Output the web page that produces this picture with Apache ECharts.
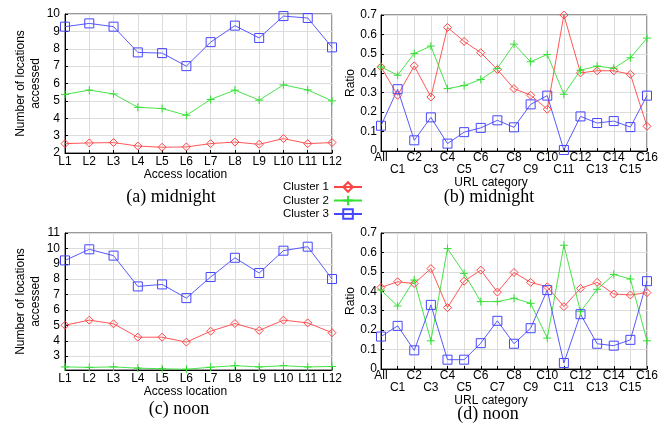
<!DOCTYPE html>
<html><head><meta charset="utf-8">
<script src="https://cdn.jsdelivr.net/npm/echarts@6/dist/echarts.min.js"></script>
<style>html,body{margin:0;padding:0;background:#fff}#c{width:670px;height:426px}</style>
</head><body><div id="c"></div>
<script>
var locations = ['L1','L2','L3','L4','L5','L6','L7','L8','L9','L10','L11','L12'];
var urlCats = ['All','C1','C2','C3','C4','C5','C6','C7','C8','C9','C10','C11','C12','C13','C14','C15','C16'];
var clusterNames = ['Cluster 1','Cluster 2','Cluster 3'];

// (a) midnight - number of locations accessed
var aC1 = [2.54,2.58,2.60,2.40,2.33,2.35,2.54,2.63,2.50,2.83,2.54,2.60];
var aC2 = [5.37,5.62,5.40,4.63,4.56,4.17,5.08,5.62,5.04,5.92,5.63,5.00];
var aC3 = [9.27,9.46,9.27,7.79,7.75,7.00,8.38,9.33,8.62,9.88,9.77,8.08];
// (b) midnight - ratio per URL category
var bC1 = [0.433,0.287,0.438,0.278,0.636,0.564,0.506,0.419,0.321,0.287,0.215,0.700,0.402,0.413,0.413,0.395,0.127];
var bC2 = [0.433,0.390,0.502,0.540,0.321,0.337,0.368,0.425,0.550,0.459,0.497,0.292,0.416,0.437,0.426,0.480,0.581];
var bC3 = [0.130,0.318,0.055,0.173,0.038,0.097,0.119,0.158,0.122,0.240,0.285,0.005,0.178,0.144,0.154,0.123,0.285];
// (c) noon - number of locations accessed
var cC1 = [5.01,5.34,5.10,4.23,4.23,3.91,4.62,5.12,4.67,5.34,5.16,4.52];
var cC2 = [2.30,2.27,2.30,2.22,2.18,2.15,2.28,2.38,2.30,2.38,2.30,2.33];
var cC3 = [9.22,9.94,9.53,7.53,7.66,6.77,8.14,9.39,8.40,9.85,10.11,8.01];
// (d) noon - ratio per URL category
var dC1 = [0.420,0.449,0.440,0.517,0.316,0.452,0.509,0.396,0.497,0.446,0.423,0.321,0.415,0.446,0.386,0.381,0.393];
var dC2 = [0.406,0.324,0.458,0.145,0.620,0.492,0.347,0.347,0.364,0.338,0.159,0.637,0.295,0.410,0.487,0.463,0.145];
var dC3 = [0.167,0.222,0.096,0.330,0.048,0.048,0.133,0.248,0.130,0.210,0.406,0.031,0.282,0.130,0.120,0.150,0.452];

var ticksC = [3,4,5,6,7,8,9,10,11];

var RED='#ff4444', GREEN='#33e033', BLUE='#4646ff';
var FONT='Liberation Sans, Arial, sans-serif';
var styles = [
  {color:RED, symbol:'diamond', size:[8,8]},
  {color:GREEN, symbol:'path://M5,0L5,10M0,5L10,5', size:[8,8]},
  {color:BLUE, symbol:'rect', size:[9,9]}
];

function mkSeries(idx, k, data){
  var s = styles[k];
  return {
    type:'line', name:clusterNames[k], xAxisIndex:idx, yAxisIndex:idx, data:data,
    symbol:s.symbol, symbolSize:s.size, showAllSymbol:true, clip:false,
    lineStyle:{color:s.color, width:0.9},
    itemStyle:{color:'rgba(255,255,255,0)', borderColor:s.color, borderWidth:1},
    emphasis:{disabled:true}, animation:false
  };
}

var grids = [
  {left:65, width:267, top:14, height:139},
  {left:381, width:266, top:15, height:136},
  {left:65, width:267, top:233, height:137},
  {left:381, width:266, top:233, height:136}
];
grids.forEach(function(g){ g.show=true; g.borderColor='#333'; g.borderWidth=1; g.backgroundColor='transparent'; });

var axisLine = {show:true, lineStyle:{color:'#000', width:1}};
var split = {show:true, lineStyle:{color:'#dcdcdc', width:1}};
var tick = {show:true, inside:true, length:3, lineStyle:{color:'#000'}};

function xLoc(idx){
  return {type:'category', gridIndex:idx, data:locations, boundaryGap:false,
    axisLine:axisLine, axisTick:{show:true, inside:true, length:3, alignWithLabel:true, lineStyle:{color:'#000'}}, splitLine:split,
    axisLabel:{interval:0, margin:3, color:'#000', fontSize:12, fontFamily:FONT},
    name:'Access location', nameLocation:'middle', nameGap:15,
    nameTextStyle:{color:'#000', fontSize:12, fontFamily:FONT, padding:[0,26,0,0]}};
}
function xUrl(idx, gap){
  return {type:'category', gridIndex:idx, data:urlCats, boundaryGap:false,
    axisLine:axisLine, axisTick:{show:true, inside:true, length:3, lineStyle:{color:'#000'}}, splitLine:split,
    axisLabel:{interval:0, margin:1, color:'#000', fontSize:12, fontFamily:FONT, lineHeight:12,
      formatter:function(v,i){ return (i%2===1) ? '\n'+v : v; }},
    name:'URL category', nameLocation:'middle', nameGap:gap,
    nameTextStyle:{color:'#000', fontSize:12, fontFamily:FONT, padding:[0,46,0,0]}};
}
function yNum(idx, mn, mx, custom){
  var ax = {type:'value', gridIndex:idx, min:mn, max:mx,
    axisLine:axisLine, axisTick:tick, splitLine:split,
    axisLabel:{margin:5, color:'#000', fontSize:12, fontFamily:FONT},
    name:'Number of locations\naccessed', nameLocation:'middle', nameGap:13,
    nameTextStyle:{color:'#000', fontSize:12, fontFamily:FONT, lineHeight:15}};
  if (custom){
    ax.axisLabel.customValues = custom;
    ax.axisTick = {show:true, inside:true, length:3, lineStyle:{color:'#000'}, customValues:custom};
  } else {
    ax.interval = 1;
  }
  return ax;
}
function yRatio(idx){
  return {type:'value', gridIndex:idx, min:0, max:0.7, interval:0.1,
    axisLine:axisLine, axisTick:tick, splitLine:split,
    axisLabel:{margin:4, color:'#000', fontSize:12, fontFamily:FONT,
      formatter:function(v){ return v===0 ? '0' : (+v.toFixed(1)).toString(); }},
    name:'Ratio', nameLocation:'middle', nameGap:21,
    nameTextStyle:{color:'#000', fontSize:12, fontFamily:FONT}};
}

var captions = [
  {text:'(a) midnight', x:171, y:197},
  {text:'(b) midnight', x:489, y:197},
  {text:'(c) noon', x:179, y:409},
  {text:'(d) noon', x:488, y:414}
];

var option = {
  animation:false,
  backgroundColor:'#fff',
  grid:grids,
  xAxis:[xLoc(0), xUrl(1, 23), xLoc(2), xUrl(3, 21)],
  yAxis:[yNum(0,2,10,null), yRatio(1), yNum(2,2.1,11,ticksC), yRatio(3)],
  legend:{orient:'vertical', left:278, top:176, align:'right', itemWidth:28, itemHeight:12, itemGap:1.5,
    data:clusterNames, textStyle:{color:'#000', fontSize:11.5, fontFamily:FONT}, selectedMode:false},
  series:[
    mkSeries(0,0,aC1), mkSeries(0,1,aC2), mkSeries(0,2,aC3),
    mkSeries(1,0,bC1), mkSeries(1,1,bC2), mkSeries(1,2,bC3),
    mkSeries(2,0,cC1), mkSeries(2,1,cC2), mkSeries(2,2,cC3),
    mkSeries(3,0,dC1), mkSeries(3,1,dC2), mkSeries(3,2,dC3)
  ],
  graphic: captions.map(function(c){
    return {type:'text', x:c.x, y:c.y, style:{text:c.text, fill:'#000', font:'18px "Liberation Serif", "Times New Roman", serif', textAlign:'center', textVerticalAlign:'middle'}};
  })
};
var chart = echarts.init(document.getElementById('c'), null, {renderer:'canvas'});
chart.setOption(option);
</script></body></html>
